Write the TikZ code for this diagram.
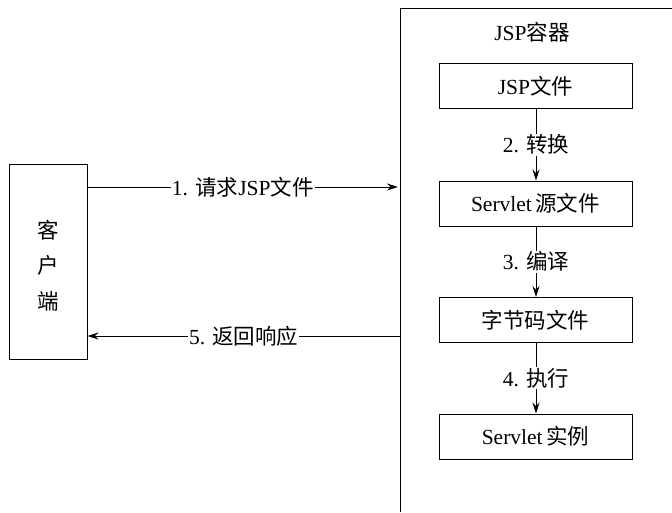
\documentclass[tikz,border=0pt]{standalone}
\usepackage{fontspec}
\setmainfont{Liberation Serif}
\newfontfamily\cjk{Noto Sans CJK SC}[Scale=1.0]
\usetikzlibrary{arrows.meta}
\begin{document}
\begin{tikzpicture}[x=1pt,y=-1pt,
  line width=1pt,
  txt/.style={font=\fontsize{21.5}{23}\selectfont, inner sep=1pt},
  box/.style={draw, line width=1pt, minimum width=193pt, minimum height=45pt, font=\fontsize{21.5}{23}\selectfont},
  arr/.style={-{Stealth[length=11pt,width=7pt]}, line width=1pt},
  lbl/.style={fill=white, font=\fontsize{21.5}{23}\selectfont, inner sep=1pt}]
\useasboundingbox (0,0) rectangle (672,512);
% container
\draw (400,512) -- (400,8) -- (672,8);
\node[txt] (title) at (532,32) {JSP{\cjk 容器}};
% client
\node[draw, line width=1pt, minimum width=78pt, minimum height=195pt] (client) at (48,261.5) {};
\node[txt] (c1) at (48,230) {\cjk 客};
\node[txt] (c2) at (48,265) {\cjk 户};
\node[txt] (c3) at (48,301) {\cjk 端};
% steps
\node[box] (b1) at (535.5,86) {JSP{\cjk 文件}};
\node[box] (b2) at (535.5,203.5) {Servlet\,{\cjk 源文件}};
\node[box] (b3) at (535.5,320) {{\cjk 字节码文件}};
\node[box] (b4) at (535.5,436.5) {Servlet\,{\cjk 实例}};
\coordinate (a1) at (536,108);
\draw[arr] (b1.south -| a1) -- node[lbl] {2. {\cjk 转换}} (b2.north -| a1);
\draw[arr] (b2.south -| a1) -- node[lbl] {3. {\cjk 编译}} (b3.north -| a1);
\draw[arr] (b3.south -| a1) -- node[lbl] {4. {\cjk 执行}} (b4.north -| a1);
% request / response
\coordinate (r1) at (398,187);
\coordinate (r5) at (400,336);
\draw[arr] (client.east |- r1) -- node[lbl, pos=0.5] {1. {\cjk 请求}JSP{\cjk 文件}} (r1);
\draw[arr] (r5) -- node[lbl, pos=0.5] {5. {\cjk 返回响应}} (client.east |- r5);
\end{tikzpicture}
\end{document}
